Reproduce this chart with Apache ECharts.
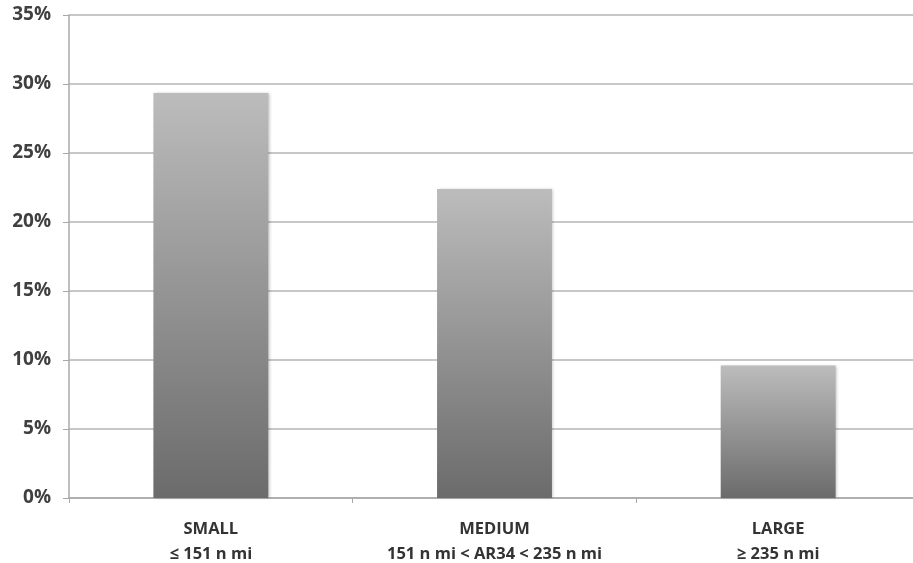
<!DOCTYPE html>
<html><head><meta charset="utf-8">
<script src="https://cdn.jsdelivr.net/npm/echarts@6/dist/echarts.min.js"></script>
<style>html,body{margin:0;padding:0;background:#fff}#c{width:913px;height:563px}</style>
</head><body><div id="c"></div>
<script>
const categories = ['SMALL\n≤ 151 n mi', 'MEDIUM\n151 n mi < AR34 < 235 n mi', 'LARGE\n≥ 235 n mi'];
const values = [29.35, 22.4, 9.6];
const yTicks = { min: 0, max: 35, interval: 5 };

const chart = echarts.init(document.getElementById('c'));
chart.setOption({
  animation: false,
  grid: { left: 69, width: 851, top: 15, height: 483, outerBoundsMode: 'none', containLabel: false },
  xAxis: {
    type: 'category', data: categories,
    axisLine: { lineStyle: { color: '#a8a8a8', width: 1.5 } },
    axisTick: { show: true, length: 5, lineStyle: { color: '#a8a8a8' } },
    axisLabel: { interval: 0, hideOverlap: false, margin: 19, color: '#333', fontFamily: 'Open Sans', fontWeight: 'bold', fontSize: 16.5, lineHeight: 25 }
  },
  yAxis: {
    type: 'value', min: yTicks.min, max: yTicks.max, interval: yTicks.interval,
    axisLine: { show: true, lineStyle: { color: '#a8a8a8', width: 1.5 } },
    axisTick: { show: true, length: 6, lineStyle: { color: '#a8a8a8' } },
    splitLine: { lineStyle: { color: '#b4b4b4', width: 1.5 } },
    axisLabel: { margin: 18, color: '#404040', fontFamily: 'Open Sans', fontWeight: 'bold', fontSize: 19, formatter: v => v + '%' }
  },
  series: [{
    type: 'bar', data: values, barWidth: '40.5%',
    itemStyle: {
      color: new echarts.graphic.LinearGradient(0, 0, 0, 1, [
        { offset: 0, color: '#bcbcbc' }, { offset: 1, color: '#6b6b6b' }
      ]),
      shadowColor: 'rgba(0,0,0,0.25)', shadowBlur: 3, shadowOffsetX: 1.5, shadowOffsetY: 0
    }
  }]
});
</script></body></html>
